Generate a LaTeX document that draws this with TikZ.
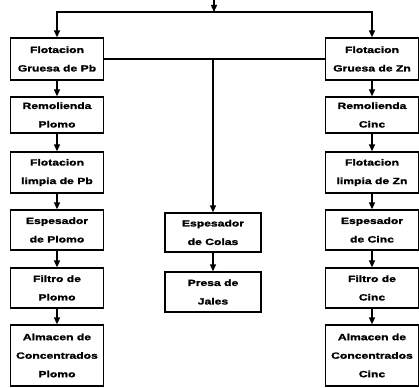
\documentclass[tikz,border=0pt]{standalone}
\usepackage{fontspec}
\setmainfont{Liberation Sans}[FakeStretch=1.35,FakeBold=1.5]
\usetikzlibrary{arrows.meta}
\begin{document}
\begin{tikzpicture}[x=1pt,y=-1pt,
  box/.style={draw, line width=1.3pt, minimum width=93pt, inner sep=0pt, align=center,
    font=\bfseries\fontsize{9}{18.5}\selectfont},
  ln/.style={line width=1.3pt},
  arr/.style={line width=1.3pt, -{Triangle[length=7pt,width=6pt]}}]
\useasboundingbox (0,0) rectangle (419,387);
% left column
\node[box, minimum height=42pt] (l1) at (57,59) {Flotacion\\Gruesa de Pb};
\node[box, minimum height=36pt] (l2) at (57,115) {Remolienda\\Plomo};
\node[box, minimum height=41pt] (l3) at (57,172.5) {Flotacion\\limpia de Pb};
\node[box, minimum height=40pt] (l4) at (57,230) {Espesador\\de Plomo};
\node[box, minimum height=40pt] (l5) at (57,288) {Filtro de\\Plomo};
\node[box, minimum height=61pt] (l6) at (57,355.5) {Almacen de\\Concentrados\\Plomo};
% right column
\node[box, minimum height=42pt] (r1) at (372,59) {Flotacion\\Gruesa de Zn};
\node[box, minimum height=36pt] (r2) at (372,115) {Remolienda\\Cinc};
\node[box, minimum height=41pt] (r3) at (372,172.5) {Flotacion\\limpia de Zn};
\node[box, minimum height=40pt] (r4) at (372,230) {Espesador\\de Cinc};
\node[box, minimum height=40pt] (r5) at (372,288) {Filtro de\\Cinc};
\node[box, minimum height=61pt] (r6) at (372,355.5) {Almacen de\\Concentrados\\Cinc};
% middle column
\node[box, minimum width=96pt, minimum height=39pt] (m1) at (213,232.5) {Espesador\\de Colas};
\node[box, minimum width=96pt, minimum height=40pt] (m2) at (213,292) {Presa de\\Jales};
% top feed
\coordinate (top) at (214,-1);
\coordinate (tj) at (214,12);
\draw[arr] (top) -- (tj);
\draw[arr] (tj) -| (l1);
\draw[arr] (tj) -| (r1);
% tails line
\draw[ln] (l1.east) -- (r1.west);
\coordinate (mj) at (213,59);
\draw[arr] (mj) -- (m1);
\draw[arr] (m1) -- (m2);
% column arrows
\foreach \c in {l,r}{
  \draw[arr] (\c1) -- (\c2);
  \draw[arr] (\c2) -- (\c3);
  \draw[arr] (\c3) -- (\c4);
  \draw[arr] (\c4) -- (\c5);
  \draw[arr] (\c5) -- (\c6);
}
\end{tikzpicture}
\end{document}
